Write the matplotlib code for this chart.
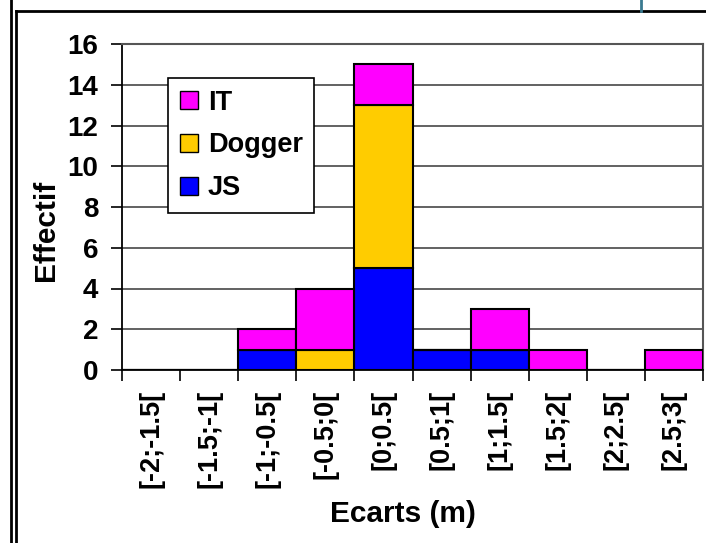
import matplotlib
matplotlib.use("Agg")
import matplotlib.pyplot as plt
from matplotlib.lines import Line2D
from matplotlib.patches import Patch
import numpy as np

categories = ["[-2;-1.5[", "[-1.5;-1[", "[-1;-0.5[", "[-0.5;0[", "[0;0.5[",
              "[0.5;1[", "[1;1.5[", "[1.5;2[", "[2;2.5[", "[2.5;3["]
js = [0, 0, 1, 0, 5, 1, 1, 0, 0, 0]
dogger = [0, 0, 0, 1, 8, 0, 0, 0, 0, 0]
it = [0, 0, 1, 3, 2, 0, 2, 1, 0, 1]
yticks = [0, 2, 4, 6, 8, 10, 12, 14, 16]

plt.rcParams["font.family"] = ["Liberation Sans", "DejaVu Sans"]
plt.rcParams["font.weight"] = "bold"

W, H = 706, 543
fig = plt.figure(figsize=(W / 100, H / 100), dpi=100)
ax = fig.add_axes([122 / W, (H - 370) / H, 581 / W, 326 / H])

x = np.arange(len(categories))
js_a, dg_a, it_a = np.array(js), np.array(dogger), np.array(it)
kw = dict(width=1.0, edgecolor="black", linewidth=1.5, zorder=3)
ax.bar(x, js_a, color="#0000FF", **kw)
ax.bar(x, dg_a, bottom=js_a, color="#FFCC00", **kw)
ax.bar(x, it_a, bottom=js_a + dg_a, color="#FF00FF", **kw)

ax.set_xlim(-0.5, len(categories) - 0.5)
ax.set_ylim(0, 16)
ax.set_yticks(yticks)
ax.set_yticklabels([str(v) for v in yticks], fontsize=20, fontweight="bold")
ax.set_xticks(np.arange(len(categories) + 1) - 0.5, minor=True)
ax.set_xticks(x)
ax.set_xticklabels(categories, rotation=90, fontsize=19.5, fontweight="bold")
ax.tick_params(axis="x", which="major", length=0, pad=14)
ax.tick_params(axis="x", which="minor", length=8, width=1.2, direction="out")
ax.tick_params(axis="y", length=8, width=1.2, direction="out", pad=9)
ax.yaxis.grid(True, color="#555555", linewidth=1.3, zorder=0)
ax.set_axisbelow(True)
for side in ["top", "right"]:
    ax.spines[side].set_color("#555555")
    ax.spines[side].set_linewidth(1.5)
for side in ["left", "bottom"]:
    ax.spines[side].set_linewidth(1.3)

ax.set_xlabel("Ecarts (m)", fontsize=21.5, fontweight="bold")
ax.xaxis.set_label_coords((403 - 122) / 581, (370 - 500) / 326)
ax.set_ylabel("Effectif", fontsize=21.5, fontweight="bold")
ax.yaxis.set_label_coords((60 - 122) / 581, (370 - 230) / 326)

handles = [Patch(facecolor="#FF00FF", edgecolor="black", label="IT"),
           Patch(facecolor="#FFCC00", edgecolor="black", label="Dogger"),
           Patch(facecolor="#0000FF", edgecolor="black", label="JS")]
leg = fig.legend(handles=handles, loc="upper left",
                 bbox_to_anchor=(168 / W, 1 - 78 / H), borderaxespad=0,
                 fancybox=False, edgecolor="black", framealpha=1,
                 borderpad=0.43, handlelength=0.67, handleheight=0.67,
                 handletextpad=0.37, labelspacing=0.62,
                 prop={"size": 19.5, "weight": "bold"})
leg.get_frame().set_linewidth(1.2)

# outer chart frame
fig.add_artist(Line2D([11 / W, 11 / W], [0, 1], color="black", lw=2))
fig.add_artist(Line2D([16 / W, 16 / W], [0, 1 - 11 / H], color="black", lw=2))
fig.add_artist(Line2D([16 / W, 1], [1 - 11 / H, 1 - 11 / H], color="black", lw=2))
fig.add_artist(Line2D([641 / W, 641 / W], [1 - 11 / H, 1], color="#3a7a90", lw=2))

fig.savefig("out.png", dpi=100)
